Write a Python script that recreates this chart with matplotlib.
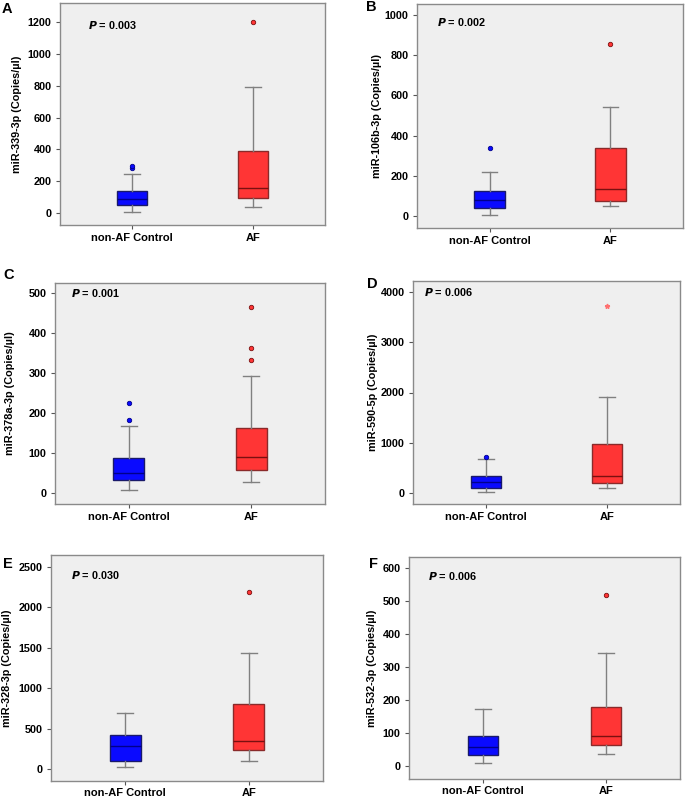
import numpy as np
import matplotlib
matplotlib.use("Agg")
import matplotlib.pyplot as plt

plt.rcParams["font.family"] = ["Liberation Sans", "DejaVu Sans"]
plt.rcParams["font.weight"] = "bold"

groups = ["non-AF Control", "AF"]

# box stats per panel: [whislo, q1, med, q3, whishi], outliers
panels = ["A", "B", "C", "D", "E", "F"]
ylabels = ["miR-339-3p (Copies/\u00b5l)", "miR-106b-3p (Copies/\u00b5l)",
           "miR-378a-3p (Copies/\u00b5l)", "miR-590-5p (Copies/\u00b5l)",
           "miR-328-3p (Copies/\u00b5l)", "miR-532-3p (Copies/\u00b5l)"]
pvals = ["0.003", "0.002", "0.001", "0.006", "0.030", "0.006"]

ctrl_stats = [
    [5, 48, 90, 140, 248],
    [5, 40, 78, 123, 218],
    [8, 33, 50, 87, 167],
    [25, 100, 210, 340, 680],
    [20, 105, 285, 420, 690],
    [8, 33, 57, 90, 173],
]
ctrl_out = [[285, 295], [338], [183, 225], [710], [], []]

af_stats = [
    [38, 97, 157, 390, 795],
    [50, 73, 135, 340, 543],
    [27, 58, 90, 162, 293],
    [100, 195, 335, 970, 1910],
    [105, 235, 350, 805, 1435],
    [37, 65, 90, 180, 343],
]
af_out = [[1200], [858], [332, 363, 466], [], [2190], [518]]
af_extreme = [[], [], [], [3730], [], []]

yticks = [np.arange(0, 1201, 200), np.arange(0, 1001, 200), np.arange(0, 501, 100),
          np.arange(0, 4001, 1000), np.arange(0, 2501, 500), np.arange(0, 601, 100)]
ylims = [(-75, 1320), (-60, 1055), (-27, 525), (-220, 4220), (-148, 2648), (-39, 633)]

# axes boxes in pixels (left, top, right, bottom)
boxes_px = [(60, 3, 325, 225), (417, 4, 683, 228), (55, 283, 325, 504),
            (413, 281, 680, 504), (51, 555, 323, 781), (409, 557, 680, 779)]
ptext_pos = [(0.105, 0.9), (0.075, 0.92), (0.06, 0.955), (0.04, 0.95), (0.073, 0.91), (0.07, 0.915)]
letter_pos = [(2, 9), (366, 7), (3, 275), (367, 284), (3, 564), (369, 564)]
ylab_x = [17, 377, 10, 373, 7, 372]

W, H = 685, 800
fig = plt.figure(figsize=(W / 100, H / 100), dpi=100)

blue = "#0a0aff"
red = "#ff3535"

for i in range(6):
    l, t, r, b = boxes_px[i]
    ax = fig.add_axes([l / W, 1 - b / H, (r - l) / W, (b - t) / H])
    ax.set_facecolor("#efefef")
    for s in ax.spines.values():
        s.set_color("#8a8a8a")
        s.set_linewidth(1.0)

    for pos, st, out, fc, ec, mc in [(1, ctrl_stats[i], ctrl_out[i], blue, "#1a1a6a", "#00008b"),
                                     (2, af_stats[i], af_out[i], red, "#8a2a2a", "#7a1010")]:
        d = dict(whislo=st[0], q1=st[1], med=st[2], q3=st[3], whishi=st[4], fliers=out)
        ax.bxp([d], positions=[pos], widths=0.25, capwidths=0.13, patch_artist=True,
               boxprops=dict(facecolor=fc, edgecolor=ec, linewidth=1.0),
               medianprops=dict(color=mc, linewidth=1.0),
               whiskerprops=dict(color="#808080", linewidth=1.0),
               capprops=dict(color="#808080", linewidth=1.0),
               flierprops=dict(marker="o", markersize=3.2, markerfacecolor=fc,
                               markeredgecolor=mc, markeredgewidth=0.6))
    if af_extreme[i]:
        ax.plot([2] * len(af_extreme[i]), af_extreme[i], ls="none", marker="*",
                markersize=3.5, color="#ff7070")

    ax.set_xlim(0.4, 2.6)
    ax.set_ylim(*ylims[i])
    ax.set_xticks([1, 2])
    ax.set_xticklabels(groups, fontsize=8, fontweight="bold")
    ax.set_yticks(yticks[i])
    ax.set_yticklabels([str(v) for v in yticks[i]], fontsize=7.8, fontweight="bold")
    ax.tick_params(axis="both", length=3, width=0.8, color="#555555", pad=3)
    if i >= 4:
        ax.tick_params(axis="x", pad=2)
    ax.text(ptext_pos[i][0], ptext_pos[i][1], "$\\mathbfit{P}$ = " + pvals[i],
            transform=ax.transAxes, fontsize=7.8, fontweight="bold", va="center")

    fig.text(ylab_x[i] / W, 1 - ((t + b) / 2) / H, ylabels[i], rotation=90,
             fontsize=7.8, fontweight="bold", ha="center", va="center")
    fig.text(letter_pos[i][0] / W, 1 - letter_pos[i][1] / H, panels[i],
             fontsize=10.5, fontweight="bold", ha="left", va="center")

fig.savefig("out.png", dpi=100)
